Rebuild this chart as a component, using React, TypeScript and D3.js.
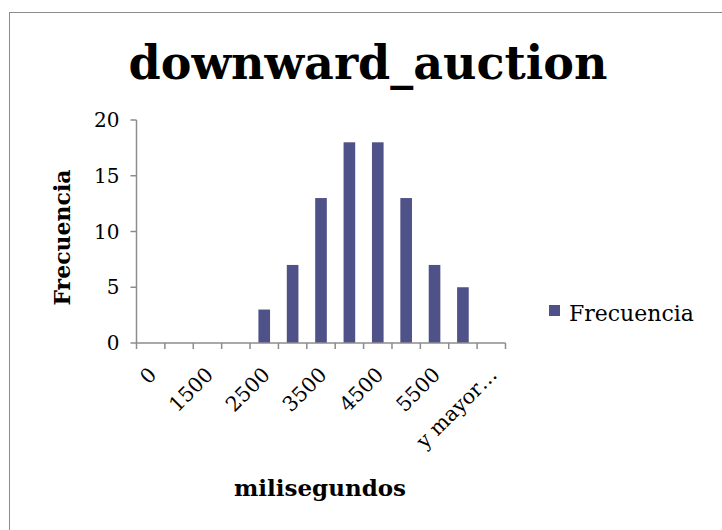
import { useEffect, useRef } from "react"
import * as d3 from "d3"

// histogram bins (Excel "Frecuencia" output)
const categories = ["0", "1000", "1500", "2000", "2500", "3000", "3500", "4000", "4500", "5000", "5500", "6000", "y mayor..."]
const frecuencia = [0, 0, 0, 0, 3, 7, 13, 18, 18, 13, 7, 5, 0]
const yTicks = [0, 5, 10, 15, 20]

const FONT = "Georgia, 'DejaVu Serif', serif"

export default function App() {
  const svgRef = useRef<SVGSVGElement>(null)

  useEffect(() => {
    if (!svgRef.current) return
    const svg = d3.select(svgRef.current)
    svg.selectAll("*").remove()

    const W = 722
    const H = 530
    const left = 136.5
    const right = 505.5
    const top = 120
    const bottom = 343

    svg.append("rect").attr("width", W).attr("height", H).attr("fill", "#fff")
    // chart border
    svg
      .append("rect")
      .attr("x", 9.5)
      .attr("y", 12.5)
      .attr("width", 730)
      .attr("height", 540)
      .attr("fill", "#fff")
      .attr("stroke", "#8c8c8c")
      .attr("stroke-width", 1)

    svg
      .append("text")
      .attr("x", 368)
      .attr("y", 79)
      .attr("text-anchor", "middle")
      .style("font-family", FONT)
      .style("font-weight", "bold")
      .style("font-size", "46px")
      .text("downward_auction")

    const x = d3.scaleBand<string>().domain(categories).range([left, right]).paddingInner(0.59).paddingOuter(0.295)
    const y = d3.scaleLinear().domain([0, 20]).range([bottom, top])
    const step = x.step()

    const g = svg.append("g")

    g.selectAll(".bar")
      .data(categories.map((c, i) => ({ c, v: frecuencia[i] })))
      .enter()
      .append("rect")
      .attr("class", "bar")
      .attr("x", (d) => x(d.c)!)
      .attr("width", x.bandwidth())
      .attr("y", (d) => y(d.v))
      .attr("height", (d) => bottom - y(d.v))
      .attr("fill", "#4f5189")

    // y axis
    g.append("line")
      .attr("x1", left).attr("x2", left)
      .attr("y1", top).attr("y2", bottom)
      .attr("stroke", "#8c8c8c").attr("stroke-width", 1.5)
    g.selectAll(".ytick")
      .data(yTicks)
      .enter()
      .append("line")
      .attr("x1", left - 6).attr("x2", left)
      .attr("y1", (d) => y(d)).attr("y2", (d) => y(d))
      .attr("stroke", "#8c8c8c").attr("stroke-width", 1.5)
    g.selectAll(".ylab")
      .data(yTicks)
      .enter()
      .append("text")
      .attr("x", left - 17)
      .attr("y", (d) => y(d) + 7)
      .attr("text-anchor", "end")
      .style("font-family", FONT)
      .style("font-size", "20px")
      .text((d) => String(d))

    // x axis
    g.append("line")
      .attr("x1", left).attr("x2", right)
      .attr("y1", bottom).attr("y2", bottom)
      .attr("stroke", "#8c8c8c").attr("stroke-width", 1.5)
    g.selectAll(".xtick")
      .data(d3.range(categories.length + 1))
      .enter()
      .append("line")
      .attr("x1", (i) => left + i * step).attr("x2", (i) => left + i * step)
      .attr("y1", bottom).attr("y2", bottom + 6)
      .attr("stroke", "#8c8c8c").attr("stroke-width", 1.5)
    g.selectAll(".xlab")
      .data(categories.filter((_, i) => i % 2 === 0))
      .enter()
      .append("text")
      .attr("transform", (d) => `translate(${x(d)! + x.bandwidth() / 2 + 7},${bottom + 33}) rotate(-45)`)
      .attr("text-anchor", "end")
      .style("font-family", FONT)
      .style("font-size", "20.5px")
      .text((d) => (d === "y mayor..." ? "y mayor…" : d))

    // axis titles
    svg.append("text")
      .attr("transform", `translate(70,${(top + bottom) / 2 + 6}) rotate(-90)`)
      .attr("text-anchor", "middle")
      .style("font-family", FONT)
      .style("font-weight", "bold")
      .style("font-size", "22px")
      .text("Frecuencia")
    svg.append("text")
      .attr("x", 320)
      .attr("y", 496)
      .attr("text-anchor", "middle")
      .style("font-family", FONT)
      .style("font-weight", "bold")
      .style("font-size", "23px")
      .text("milisegundos")

    // legend
    svg.append("rect").attr("x", 549).attr("y", 305).attr("width", 11).attr("height", 11).attr("fill", "#4f5189")
    svg.append("text")
      .attr("x", 569)
      .attr("y", 321)
      .style("font-family", FONT)
      .style("font-size", "22px")
      .text("Frecuencia")
  }, [])

  return <svg ref={svgRef} width={722} height={530} style={{ position: "absolute", left: 0, top: 0 }} />
}
